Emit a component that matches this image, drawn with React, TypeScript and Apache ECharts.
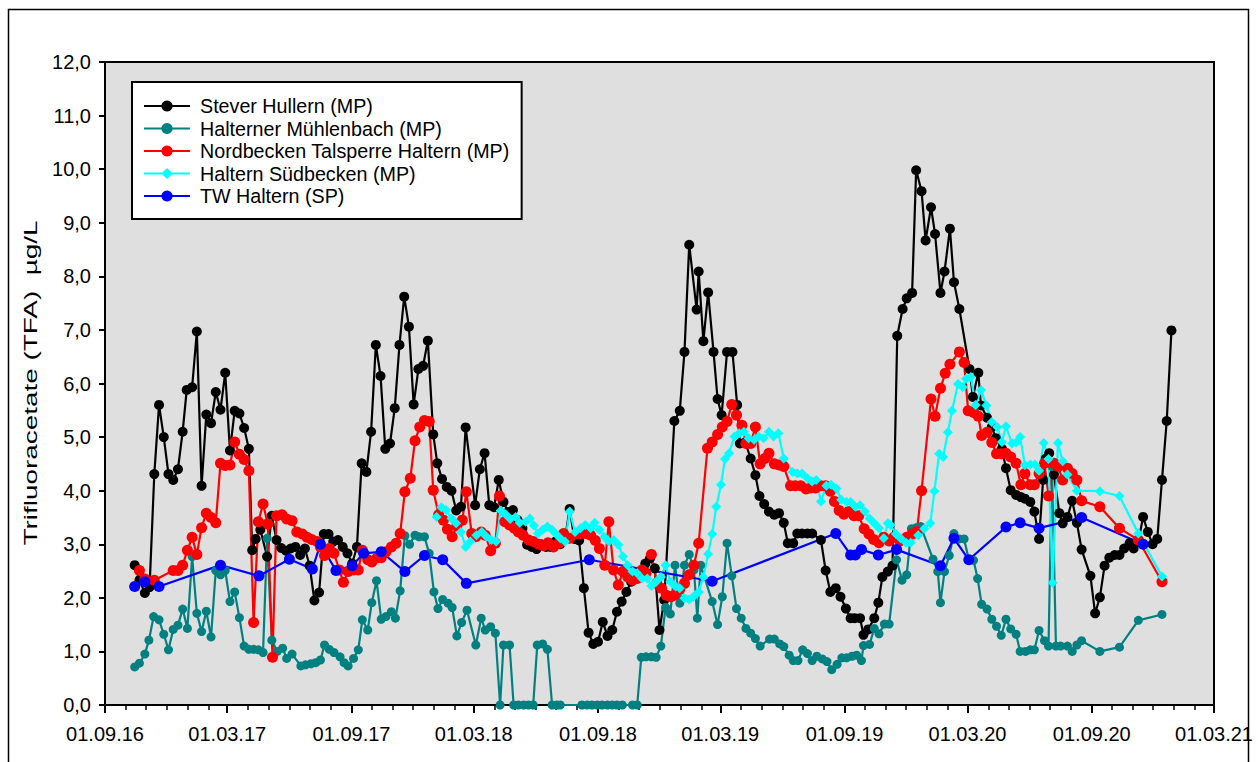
import React, { useEffect, useRef } from 'react';
import * as echarts from 'echarts';

const FONT = '"Liberation Sans", Arial, Helvetica, sans-serif';

// ---------- axis definitions ----------
const X_MIN = '2016-09-01';
const X_MAX = '2021-03-01';
const majorTickDates = [
  '2016-09-01', '2017-03-01', '2017-09-01', '2018-03-01', '2018-09-01',
  '2019-03-01', '2019-09-01', '2020-03-01', '2020-09-01', '2021-03-01',
];
const Y_MIN = 0;
const Y_MAX = 12;
const Y_STEP = 1;
const yAxisTitle = 'Trifluoracetate (TFA)  µg/L';

const seriesNames = [
  'Stever Hullern (MP)',
  'Halterner Mühlenbach (MP)',
  'Nordbecken Talsperre Haltern (MP)',
  'Haltern Südbecken (MP)',
  'TW Haltern (SP)',
];

// ---------- data (date, µg/L) ----------
const steverHullern: [string, number][] = [
  ['2016-10-15', 2.61], ['2016-10-22', 2.33], ['2016-10-30', 2.09], ['2016-11-06', 2.2], ['2016-11-13', 4.31],
  ['2016-11-20', 5.6], ['2016-11-27', 5.0], ['2016-12-04', 4.31], ['2016-12-11', 4.2], ['2016-12-18', 4.4],
  ['2016-12-25', 5.1], ['2016-12-31', 5.88], ['2017-01-08', 5.93], ['2017-01-15', 6.97], ['2017-01-22', 4.09],
  ['2017-01-29', 5.42], ['2017-02-05', 5.26], ['2017-02-12', 5.84], ['2017-02-19', 5.51], ['2017-02-26', 6.2],
  ['2017-03-05', 4.75], ['2017-03-12', 5.49], ['2017-03-19', 5.44], ['2017-03-26', 5.17], ['2017-04-02', 4.78],
  ['2017-04-07', 2.89], ['2017-04-12', 3.1], ['2017-04-19', 3.27], ['2017-04-29', 2.77], ['2017-05-06', 3.53],
  ['2017-05-13', 3.08], ['2017-05-20', 2.93], ['2017-05-27', 2.88], ['2017-06-03', 2.92], ['2017-06-10', 2.95],
  ['2017-06-17', 2.8], ['2017-06-24', 2.92], ['2017-07-01', 2.6], ['2017-07-08', 1.95], ['2017-07-15', 2.1],
  ['2017-07-22', 3.19], ['2017-07-29', 3.19], ['2017-08-05', 3.05], ['2017-08-12', 3.08], ['2017-08-19', 2.95],
  ['2017-08-26', 2.83], ['2017-09-02', 2.64], ['2017-09-09', 2.95], ['2017-09-16', 4.51], ['2017-09-23', 4.35],
  ['2017-09-30', 5.1], ['2017-10-07', 6.72], ['2017-10-14', 6.14], ['2017-10-21', 4.78], ['2017-10-28', 4.88],
  ['2017-11-04', 5.54], ['2017-11-11', 6.72], ['2017-11-18', 7.62], ['2017-11-25', 7.06], ['2017-12-02', 5.61],
  ['2017-12-09', 6.27], ['2017-12-16', 6.33], ['2017-12-23', 6.8], ['2017-12-31', 5.05], ['2018-01-06', 4.51],
  ['2018-01-13', 4.22], ['2018-01-20', 4.07], ['2018-01-27', 4.0], ['2018-02-03', 3.63], ['2018-02-10', 3.7],
  ['2018-02-17', 5.18], ['2018-03-03', 3.73], ['2018-03-10', 4.4], ['2018-03-17', 4.7], ['2018-03-24', 3.73],
  ['2018-03-31', 3.69], ['2018-04-07', 4.2], ['2018-04-14', 3.79], ['2018-04-21', 3.6], ['2018-04-28', 3.64],
  ['2018-05-05', 3.45], ['2018-05-12', 3.3], ['2018-05-19', 2.99], ['2018-05-26', 2.95], ['2018-06-02', 2.91],
  ['2018-06-09', 3.0], ['2018-06-16', 2.95], ['2018-06-23', 2.95], ['2018-06-30', 3.05], ['2018-07-07', 3.0],
  ['2018-07-14', 3.1], ['2018-07-21', 3.66], ['2018-07-28', 3.1], ['2018-08-04', 3.07], ['2018-08-11', 2.18],
  ['2018-08-18', 1.35], ['2018-08-25', 1.14], ['2018-09-01', 1.18], ['2018-09-08', 1.55], ['2018-09-15', 1.29],
  ['2018-09-22', 1.4], ['2018-09-29', 1.74], ['2018-10-06', 1.93], ['2018-10-13', 2.11], ['2018-10-20', 2.3],
  ['2018-10-27', 2.4], ['2018-11-03', 2.49], ['2018-11-10', 2.64], ['2018-11-17', 2.74], ['2018-11-24', 2.55],
  ['2018-12-01', 1.4], ['2018-12-08', 1.96], ['2018-12-23', 5.3], ['2018-12-31', 5.49], ['2019-01-07', 6.59],
  ['2019-01-14', 8.59], ['2019-01-25', 7.38], ['2019-01-28', 8.09], ['2019-02-04', 6.79], ['2019-02-11', 7.7],
  ['2019-02-19', 6.59], ['2019-02-25', 5.71], ['2019-03-03', 5.41], ['2019-03-11', 6.59], ['2019-03-19', 6.59],
  ['2019-03-26', 5.6], ['2019-03-30', 4.88], ['2019-04-07', 4.9], ['2019-04-15', 4.6], ['2019-04-22', 4.29],
  ['2019-04-28', 3.9], ['2019-05-05', 3.75], ['2019-05-12', 3.61], ['2019-05-20', 3.55], ['2019-05-27', 3.58],
  ['2019-06-03', 3.4], ['2019-06-09', 3.02], ['2019-06-17', 3.02], ['2019-06-23', 3.2], ['2019-06-30', 3.2],
  ['2019-07-08', 3.2], ['2019-07-15', 3.2], ['2019-07-28', 3.08], ['2019-08-04', 2.51], ['2019-08-11', 2.11],
  ['2019-08-19', 2.18], ['2019-08-26', 2.02], ['2019-09-03', 1.8], ['2019-09-10', 1.62], ['2019-09-16', 1.62],
  ['2019-09-24', 1.62], ['2019-09-29', 1.31], ['2019-10-06', 1.41], ['2019-10-15', 1.62], ['2019-10-21', 1.91],
  ['2019-10-27', 2.39], ['2019-11-04', 2.49], ['2019-11-11', 2.6], ['2019-11-18', 6.89], ['2019-11-26', 7.39],
  ['2019-12-02', 7.59], ['2019-12-10', 7.69], ['2019-12-16', 9.98], ['2019-12-24', 9.59], ['2019-12-30', 8.67],
  ['2020-01-07', 9.29], ['2020-01-13', 8.79], ['2020-01-21', 7.69], ['2020-01-27', 8.09], ['2020-02-04', 8.89],
  ['2020-02-10', 7.89], ['2020-02-18', 7.39], ['2020-03-04', 6.27], ['2020-03-09', 5.75], ['2020-03-17', 6.2],
  ['2020-03-21', 5.59], ['2020-03-30', 5.36], ['2020-04-06', 5.19], ['2020-04-12', 4.98], ['2020-04-21', 4.78],
  ['2020-04-27', 4.42], ['2020-05-04', 4.01], ['2020-05-12', 3.92], ['2020-05-19', 3.88], ['2020-05-25', 3.85],
  ['2020-06-02', 3.79], ['2020-06-08', 3.61], ['2020-06-15', 3.1], ['2020-06-21', 4.2], ['2020-06-25', 4.6],
  ['2020-06-30', 4.7], ['2020-07-07', 4.3], ['2020-07-15', 3.58], ['2020-07-20', 3.39], ['2020-07-27', 3.51],
  ['2020-08-03', 3.81], ['2020-08-10', 3.4], ['2020-08-17', 2.9], ['2020-08-30', 2.41], ['2020-09-06', 1.71],
  ['2020-09-13', 2.01], ['2020-09-20', 2.6], ['2020-09-27', 2.75], ['2020-10-05', 2.8], ['2020-10-12', 2.8],
  ['2020-10-19', 2.92], ['2020-10-27', 3.02], ['2020-11-02', 2.92], ['2020-11-09', 3.05], ['2020-11-16', 3.51],
  ['2020-11-23', 3.23], ['2020-11-30', 3.0], ['2020-12-07', 3.1], ['2020-12-14', 4.2], ['2020-12-21', 5.3],
  ['2020-12-28', 6.99],
];

const halternerMuehlenbach: [string, number][] = [
  ['2016-10-15', 0.71], ['2016-10-22', 0.78], ['2016-10-30', 0.95], ['2016-11-05', 1.21], ['2016-11-12', 1.65],
  ['2016-11-20', 1.59], ['2016-11-27', 1.32], ['2016-12-04', 1.03], ['2016-12-11', 1.41], ['2016-12-18', 1.49],
  ['2016-12-25', 1.79], ['2017-01-01', 1.43], ['2017-01-08', 2.77], ['2017-01-15', 1.71], ['2017-01-22', 1.37],
  ['2017-01-29', 1.75], ['2017-02-05', 1.27], ['2017-02-12', 2.51], ['2017-02-19', 2.43], ['2017-02-26', 2.51],
  ['2017-03-05', 1.93], ['2017-03-12', 2.11], ['2017-03-19', 1.63], ['2017-03-26', 1.1], ['2017-04-02', 1.04],
  ['2017-04-09', 1.04], ['2017-04-16', 1.03], ['2017-04-23', 0.98], ['2017-04-29', 3.11], ['2017-05-06', 1.21],
  ['2017-05-14', 1.0], ['2017-05-22', 1.06], ['2017-05-28', 0.87], ['2017-06-05', 0.95], ['2017-06-18', 0.73],
  ['2017-06-25', 0.75], ['2017-07-03', 0.77], ['2017-07-10', 0.79], ['2017-07-17', 0.84], ['2017-07-23', 1.12],
  ['2017-07-30', 1.04], ['2017-08-06', 0.98], ['2017-08-15', 0.9], ['2017-08-21', 0.79], ['2017-08-27', 0.73],
  ['2017-09-04', 0.87], ['2017-09-11', 1.03], ['2017-09-17', 1.59], ['2017-09-25', 1.4], ['2017-10-01', 1.91],
  ['2017-10-08', 2.32], ['2017-10-15', 1.6], ['2017-10-22', 1.65], ['2017-10-30', 1.74], ['2017-11-05', 1.62],
  ['2017-11-12', 2.13], ['2017-11-19', 3.16], ['2017-11-26', 3.0], ['2017-12-04', 3.17], ['2017-12-10', 3.14],
  ['2017-12-18', 3.14], ['2017-12-25', 2.83], ['2018-01-01', 2.11], ['2018-01-07', 1.8], ['2018-01-14', 1.97],
  ['2018-01-22', 1.9], ['2018-01-28', 1.82], ['2018-02-04', 1.29], ['2018-02-11', 1.54], ['2018-02-19', 1.77],
  ['2018-03-04', 1.12], ['2018-03-12', 1.62], ['2018-03-18', 1.4], ['2018-03-26', 1.46], ['2018-04-02', 1.34],
  ['2018-04-09', 0], ['2018-04-14', 1.12], ['2018-04-23', 1.12], ['2018-04-29', 0], ['2018-05-06', 0],
  ['2018-05-14', 0], ['2018-05-21', 0], ['2018-05-28', 0], ['2018-06-03', 1.12], ['2018-06-11', 1.14],
  ['2018-06-18', 1.04], ['2018-06-25', 0], ['2018-07-02', 0], ['2018-07-07', 0], ['2018-08-08', 0],
  ['2018-08-16', 0], ['2018-08-23', 0], ['2018-08-31', 0], ['2018-09-07', 0], ['2018-09-15', 0],
  ['2018-09-22', 0], ['2018-09-29', 0], ['2018-10-07', 0], ['2018-10-22', 0], ['2018-10-29', 0],
  ['2018-11-04', 0.89], ['2018-11-11', 0.9], ['2018-11-19', 0.9], ['2018-11-26', 0.89], ['2018-12-03', 1.1],
  ['2018-12-10', 1.82], ['2018-12-17', 1.7], ['2018-12-24', 2.61], ['2018-12-31', 1.9], ['2019-01-07', 2.61],
  ['2019-01-14', 2.81], ['2019-01-21', 2.52], ['2019-01-26', 1.62], ['2019-01-31', 2.61], ['2019-02-17', 1.93],
  ['2019-02-25', 1.5], ['2019-03-04', 2.02], ['2019-03-11', 3.02], ['2019-03-18', 2.41], ['2019-03-25', 1.8],
  ['2019-04-01', 1.62], ['2019-04-08', 1.43], ['2019-04-15', 1.34], ['2019-04-22', 1.24], ['2019-04-29', 1.1],
  ['2019-05-13', 1.23], ['2019-05-20', 1.23], ['2019-05-28', 1.14], ['2019-06-03', 1.09], ['2019-06-11', 0.93],
  ['2019-06-17', 0.83], ['2019-06-24', 0.83], ['2019-07-01', 1.03], ['2019-07-08', 0.96], ['2019-07-15', 0.83],
  ['2019-07-22', 0.91], ['2019-07-30', 0.86], ['2019-08-06', 0.81], ['2019-08-13', 0.66], ['2019-08-21', 0.76],
  ['2019-08-28', 0.88], ['2019-09-04', 0.88], ['2019-09-12', 0.91], ['2019-09-19', 0.93], ['2019-09-26', 0.83],
  ['2019-09-29', 1.11], ['2019-10-08', 1.13], ['2019-10-15', 1.43], ['2019-10-22', 1.33], ['2019-10-30', 1.51],
  ['2019-11-06', 1.51], ['2019-11-17', 2.71], ['2019-11-25', 2.33], ['2019-12-02', 2.43], ['2019-12-09', 3.29],
  ['2019-12-16', 3.31], ['2019-12-23', 3.33], ['2020-01-10', 2.72], ['2020-01-17', 2.49], ['2020-01-21', 1.91],
  ['2020-01-27', 2.49], ['2020-02-03', 2.79], ['2020-02-10', 3.2], ['2020-02-18', 3.1], ['2020-02-25', 3.1],
  ['2020-03-03', 2.71], ['2020-03-10', 2.7], ['2020-03-16', 2.36], ['2020-03-22', 1.88], ['2020-03-30', 1.79],
  ['2020-04-06', 1.6], ['2020-04-13', 1.47], ['2020-04-20', 1.3], ['2020-04-27', 1.6], ['2020-05-04', 1.42],
  ['2020-05-12', 1.32], ['2020-05-18', 1.0], ['2020-05-26', 1.0], ['2020-06-02', 1.03], ['2020-06-08', 1.03],
  ['2020-06-15', 1.39], ['2020-06-23', 1.2], ['2020-06-29', 1.1], ['2020-07-04', 4.45], ['2020-07-10', 1.1],
  ['2020-07-17', 1.1], ['2020-07-27', 1.1], ['2020-08-03', 1.0], ['2020-08-10', 1.12], ['2020-08-17', 1.2],
  ['2020-09-13', 1.0], ['2020-10-12', 1.08], ['2020-11-09', 1.58], ['2020-12-14', 1.69],
];

const nordbecken: [string, number][] = [
  ['2016-10-22', 2.51], ['2016-10-30', 2.35], ['2016-11-13', 2.33], ['2016-12-11', 2.51], ['2016-12-18', 2.51],
  ['2016-12-25', 2.61], ['2017-01-01', 2.89], ['2017-01-08', 3.13], ['2017-01-15', 2.81], ['2017-01-22', 3.31],
  ['2017-01-29', 3.58], ['2017-02-05', 3.5], ['2017-02-12', 3.4], ['2017-02-19', 4.51], ['2017-02-26', 4.47],
  ['2017-03-05', 4.48], ['2017-03-12', 4.91], ['2017-03-19', 4.68], ['2017-03-26', 4.58], ['2017-04-02', 4.37],
  ['2017-04-09', 1.54], ['2017-04-16', 3.42], ['2017-04-23', 3.75], ['2017-04-30', 3.38], ['2017-05-07', 0.89],
  ['2017-05-13', 3.53], ['2017-05-21', 3.55], ['2017-05-28', 3.47], ['2017-06-05', 3.44], ['2017-06-12', 3.23],
  ['2017-06-20', 3.19], ['2017-06-27', 3.13], ['2017-07-04', 3.09], ['2017-07-12', 3.05], ['2017-07-17', 2.95],
  ['2017-07-23', 2.79], ['2017-07-30', 2.92], ['2017-08-06', 2.83], ['2017-08-14', 2.52], ['2017-08-20', 2.29],
  ['2017-08-27', 2.49], ['2017-09-04', 2.52], ['2017-09-11', 2.52], ['2017-09-17', 2.89], ['2017-09-25', 2.71],
  ['2017-10-01', 2.67], ['2017-10-09', 2.75], ['2017-10-15', 2.75], ['2017-10-22', 2.86], ['2017-10-30', 2.95],
  ['2017-11-06', 3.02], ['2017-11-12', 3.2], ['2017-11-19', 3.98], ['2017-11-27', 4.23], ['2017-12-04', 4.93],
  ['2017-12-11', 5.19], ['2017-12-18', 5.31], ['2017-12-25', 5.29], ['2017-12-31', 4.01], ['2018-01-08', 3.55],
  ['2018-01-15', 3.45], ['2018-01-21', 3.28], ['2018-01-28', 3.14], ['2018-02-04', 3.34], ['2018-02-12', 3.45],
  ['2018-02-18', 3.98], ['2018-02-26', 3.2], ['2018-03-04', 3.14], ['2018-03-12', 3.23], ['2018-03-18', 3.17],
  ['2018-03-26', 2.88], ['2018-04-02', 3.02], ['2018-04-08', 3.9], ['2018-04-16', 3.42], ['2018-04-23', 3.36],
  ['2018-04-30', 3.3], ['2018-05-06', 3.23], ['2018-05-13', 3.17], ['2018-05-21', 3.08], ['2018-05-28', 3.05],
  ['2018-06-05', 3.0], ['2018-06-12', 2.97], ['2018-06-19', 3.03], ['2018-06-27', 2.95], ['2018-07-05', 3.02],
  ['2018-07-12', 3.2], ['2018-07-21', 3.11], ['2018-08-01', 3.2], ['2018-08-06', 3.2], ['2018-08-13', 3.2],
  ['2018-08-21', 3.17], ['2018-08-28', 3.07], ['2018-09-03', 2.92], ['2018-09-11', 2.61], ['2018-09-17', 3.42],
  ['2018-09-24', 2.52], ['2018-10-01', 2.24], ['2018-10-08', 2.49], ['2018-10-15', 2.39], ['2018-10-22', 2.33],
  ['2018-10-29', 2.36], ['2018-11-05', 2.52], ['2018-11-11', 2.46], ['2018-11-19', 2.81], ['2018-11-27', 2.27],
  ['2018-12-04', 2.18], ['2018-12-11', 2.05], ['2018-12-18', 2.02], ['2018-12-23', 2.05], ['2018-12-31', 2.16],
  ['2019-01-07', 2.27], ['2019-01-14', 2.43], ['2019-01-21', 2.61], ['2019-01-28', 3.02], ['2019-02-10', 4.79],
  ['2019-02-17', 4.91], ['2019-02-25', 5.05], ['2019-03-04', 5.19], ['2019-03-11', 5.29], ['2019-03-18', 5.61],
  ['2019-03-25', 5.41], ['2019-04-02', 5.22], ['2019-04-08', 4.88], ['2019-04-15', 4.88], ['2019-04-22', 5.19],
  ['2019-04-29', 4.5], ['2019-05-06', 4.6], ['2019-05-12', 4.7], ['2019-05-20', 4.5], ['2019-05-27', 4.48],
  ['2019-06-03', 4.45], ['2019-06-13', 4.09], ['2019-06-20', 4.09], ['2019-06-28', 4.09], ['2019-07-06', 4.03],
  ['2019-07-13', 4.05], ['2019-07-20', 4.05], ['2019-07-28', 4.09], ['2019-08-04', 4.09], ['2019-08-11', 3.99],
  ['2019-08-17', 3.8], ['2019-08-24', 3.63], ['2019-08-31', 3.56], ['2019-09-07', 3.61], ['2019-09-15', 3.53],
  ['2019-09-22', 3.53], ['2019-09-30', 3.29], ['2019-10-07', 3.19], ['2019-10-14', 3.09], ['2019-10-22', 3.03],
  ['2019-10-29', 3.13], ['2019-11-06', 3.06], ['2019-11-13', 3.13], ['2019-11-22', 3.06], ['2019-12-02', 3.13],
  ['2019-12-10', 3.19], ['2019-12-17', 3.24], ['2019-12-24', 4.0], ['2020-01-07', 5.71], ['2020-01-13', 5.39],
  ['2020-01-21', 5.91], ['2020-01-28', 6.19], ['2020-02-04', 6.36], ['2020-02-18', 6.59], ['2020-02-25', 6.39],
  ['2020-03-02', 5.49], ['2020-03-10', 5.46], ['2020-03-17', 5.39], ['2020-03-22', 5.03], ['2020-03-30', 5.09],
  ['2020-04-06', 4.9], ['2020-04-13', 4.69], ['2020-04-20', 4.69], ['2020-04-27', 4.7], ['2020-05-04', 4.63],
  ['2020-05-12', 4.51], ['2020-05-19', 4.11], ['2020-05-25', 4.32], ['2020-06-02', 4.11], ['2020-06-08', 4.11],
  ['2020-06-15', 4.32], ['2020-06-23', 4.51], ['2020-06-29', 3.9], ['2020-07-07', 4.51], ['2020-07-13', 4.45],
  ['2020-07-20', 4.2], ['2020-07-27', 4.42], ['2020-08-03', 4.32], ['2020-08-10', 4.2], ['2020-08-17', 3.81],
  ['2020-09-13', 3.7], ['2020-10-12', 3.3], ['2020-11-09', 3.08], ['2020-12-14', 2.3],
];

const halternSuedbecken: [string, number][] = [
  ['2018-01-05', 3.51], ['2018-01-12', 3.69], ['2018-01-19', 3.64], ['2018-01-27', 3.48], ['2018-02-03', 3.39],
  ['2018-02-10', 3.23], ['2018-02-17', 2.95], ['2018-02-24', 3.05], ['2018-03-05', 3.17], ['2018-03-13', 3.23],
  ['2018-03-20', 3.14], ['2018-03-27', 3.08], ['2018-04-03', 3.05], ['2018-04-10', 3.63], ['2018-04-17', 3.56],
  ['2018-04-24', 3.47], ['2018-05-02', 3.51], ['2018-05-08', 3.4], ['2018-05-17', 3.42], ['2018-05-23', 3.48],
  ['2018-05-29', 3.35], ['2018-06-04', 3.2], ['2018-06-11', 3.27], ['2018-06-18', 3.33], ['2018-06-25', 3.27],
  ['2018-06-30', 3.2], ['2018-07-07', 3.11], ['2018-07-14', 3.05], ['2018-07-21', 3.61], ['2018-07-29', 3.23],
  ['2018-08-06', 3.3], ['2018-08-13', 3.36], ['2018-08-21', 3.3], ['2018-08-27', 3.4], ['2018-09-03', 3.27],
  ['2018-09-10', 3.14], ['2018-09-17', 3.05], ['2018-09-24', 3.08], ['2018-10-01', 2.99], ['2018-10-08', 2.77],
  ['2018-10-15', 2.61], ['2018-10-22', 2.49], ['2018-10-29', 2.46], ['2018-11-05', 2.36], ['2018-11-13', 2.36],
  ['2018-11-19', 2.22], ['2018-11-26', 2.3], ['2018-12-03', 2.39], ['2018-12-10', 2.61], ['2018-12-17', 2.3],
  ['2018-12-25', 2.21], ['2018-12-31', 2.18], ['2019-01-07', 1.99], ['2019-01-14', 1.97], ['2019-01-20', 2.02],
  ['2019-01-28', 2.11], ['2019-02-04', 2.39], ['2019-02-11', 2.82], ['2019-02-17', 3.19], ['2019-02-23', 3.7],
  ['2019-03-02', 4.11], ['2019-03-08', 4.59], ['2019-03-14', 4.7], ['2019-03-22', 5.01], ['2019-03-29', 5.07],
  ['2019-04-05', 5.1], ['2019-04-12', 4.98], ['2019-04-20', 4.95], ['2019-04-27', 5.01], ['2019-05-04', 4.98],
  ['2019-05-12', 5.1], ['2019-05-19', 5.01], ['2019-05-26', 5.07], ['2019-06-03', 4.6], ['2019-06-16', 4.35],
  ['2019-06-23', 4.32], ['2019-06-30', 4.32], ['2019-07-08', 4.23], ['2019-07-15', 4.17], ['2019-07-21', 4.2],
  ['2019-07-28', 3.8], ['2019-08-05', 4.09], ['2019-08-12', 4.11], ['2019-08-20', 4.04], ['2019-08-27', 3.83],
  ['2019-09-04', 3.79], ['2019-09-10', 3.79], ['2019-09-17', 3.7], ['2019-09-24', 3.73], ['2019-10-01', 3.61],
  ['2019-10-08', 3.48], ['2019-10-15', 3.39], ['2019-10-22', 3.3], ['2019-10-29', 3.11], ['2019-11-04', 3.39],
  ['2019-11-08', 3.36], ['2019-11-16', 3.19], ['2019-11-23', 3.11], ['2019-12-01', 3.03], ['2019-12-08', 3.03],
  ['2019-12-19', 3.17], ['2019-12-28', 3.29], ['2020-01-06', 3.39], ['2020-01-12', 3.99], ['2020-01-19', 4.69],
  ['2020-01-25', 4.63], ['2020-02-01', 5.09], ['2020-02-07', 5.49], ['2020-02-16', 5.99], ['2020-02-23', 5.93],
  ['2020-02-28', 6.09], ['2020-03-06', 6.12], ['2020-03-13', 5.6], ['2020-03-21', 5.88], ['2020-03-29', 5.59],
  ['2020-04-06', 5.28], ['2020-04-14', 5.19], ['2020-04-21', 4.91], ['2020-04-27', 5.2], ['2020-05-06', 4.88],
  ['2020-05-12', 4.9], ['2020-05-18', 5.0], ['2020-05-25', 4.48], ['2020-06-02', 4.49], ['2020-06-09', 4.49],
  ['2020-06-15', 4.37], ['2020-06-22', 4.89], ['2020-06-29', 4.59], ['2020-07-05', 2.28], ['2020-07-13', 4.89],
  ['2020-07-20', 4.55], ['2020-07-27', 4.3], ['2020-08-10', 4.0], ['2020-09-13', 3.99], ['2020-10-12', 3.9],
  ['2020-11-09', 3.2], ['2020-12-14', 2.4],
];

const twHaltern: [string, number][] = [
  ['2016-10-15', 2.21], ['2016-10-30', 2.3], ['2016-11-20', 2.21], ['2017-02-19', 2.61], ['2017-04-17', 2.41],
  ['2017-06-01', 2.72], ['2017-07-05', 2.54], ['2017-07-17', 3.0], ['2017-08-09', 2.51], ['2017-09-02', 2.6],
  ['2017-09-19', 2.83], ['2017-10-15', 2.86], ['2017-11-19', 2.49], ['2017-12-18', 2.79], ['2018-01-14', 2.71],
  ['2018-02-18', 2.27], ['2018-08-19', 2.71], ['2019-02-17', 2.31], ['2019-08-19', 3.2], ['2019-09-10', 2.8],
  ['2019-09-17', 2.8], ['2019-09-26', 2.9], ['2019-10-21', 2.8], ['2019-11-17', 2.9], ['2020-01-21', 2.6],
  ['2020-02-10', 3.11], ['2020-03-03', 2.71], ['2020-04-27', 3.32], ['2020-05-18', 3.4], ['2020-06-15', 3.3],
  ['2020-08-17', 3.5], ['2020-11-16', 3.0],
];

// ---------- helpers ----------
function ts(d: string): number {
  const [y, m, dd] = d.split('-').map(Number);
  return Date.UTC(y, m - 1, dd);
}
function fmtDate(v: number): string {
  const d = new Date(v);
  const dd = String(d.getUTCDate()).padStart(2, '0');
  const mm = String(d.getUTCMonth() + 1).padStart(2, '0');
  const yy = String(d.getUTCFullYear() % 100).padStart(2, '0');
  return `${dd}.${mm}.${yy}`;
}
function monthStarts(from: string, to: string): number[] {
  const out: number[] = [];
  const [fy, fm] = from.split('-').map(Number);
  const end = ts(to);
  let y = fy;
  let m = fm - 1;
  while (Date.UTC(y, m, 1) <= end) {
    out.push(Date.UTC(y, m, 1));
    m++;
    if (m > 11) { m = 0; y++; }
  }
  return out;
}

const seriesStyles = [
  { color: '#000000', symbol: 'circle', size: 10 },
  { color: '#008080', symbol: 'circle', size: 9 },
  { color: '#FF0000', symbol: 'circle', size: 11 },
  { color: '#00FFFF', symbol: 'diamond', size: 10 },
  { color: '#0000FF', symbol: 'circle', size: 11 },
];
const seriesData = [steverHullern, halternerMuehlenbach, nordbecken, halternSuedbecken, twHaltern];

export default function App() {
  const ref = useRef<HTMLDivElement>(null);

  useEffect(() => {
    if (!ref.current) return;
    const chart = echarts.init(ref.current, null, { renderer: 'svg' });

    const series = seriesNames.map((name, i) => ({
      name,
      type: 'line',
      xAxisIndex: 0,
      yAxisIndex: 0,
      data: seriesData[i].map(([d, v]) => [ts(d), v]),
      symbol: seriesStyles[i].symbol,
      symbolSize: seriesStyles[i].size,
      showSymbol: true,
      showAllSymbol: true,
      lineStyle: { color: seriesStyles[i].color, width: 2.2 },
      itemStyle: { color: seriesStyles[i].color, borderWidth: 0 },
      emphasis: { disabled: true },
      clip: true,
    }));

    const option: any = {
      animation: false,
      backgroundColor: '#ffffff',
      textStyle: { fontFamily: FONT },
      grid: {
        left: 105, right: 44, top: 62, bottom: 57,
        show: true, backgroundColor: '#DFDFDF', borderColor: '#000', borderWidth: 2,
      },
      legend: {
        data: seriesNames,
        orient: 'vertical',
        left: 132,
        top: 82,
        itemWidth: 46,
        itemHeight: 14,
        itemGap: 2.5,
        padding: [14, 12, 13, 11],
        backgroundColor: '#ffffff',
        borderColor: '#000000',
        borderWidth: 2,
        borderRadius: 0,
        selectedMode: false,
        textStyle: {
          fontFamily: FONT, fontSize: 19.7, color: '#000', lineHeight: 19.5, padding: [0, 0, 0, 5],
        },
      },
      xAxis: [
        {
          type: 'value',
          min: ts(X_MIN),
          max: ts(X_MAX),
          position: 'bottom',
          axisLine: { show: true, onZero: false, lineStyle: { color: '#000', width: 2 } },
          axisTick: {
            show: true, inside: false, length: 8, lineStyle: { color: '#000', width: 2 },
            customValues: majorTickDates.map(ts),
          },
          axisLabel: {
            show: true, margin: 19, color: '#000', fontFamily: FONT, fontSize: 20,
            customValues: majorTickDates.map(ts),
            formatter: (v: number) => fmtDate(v),
          },
          splitLine: { show: false },
        },
        {
          type: 'value',
          min: ts(X_MIN),
          max: ts(X_MAX),
          position: 'bottom',
          axisLine: { show: false },
          axisTick: {
            show: true, inside: false, length: 5, lineStyle: { color: '#000', width: 1.5 },
            customValues: monthStarts(X_MIN, X_MAX),
          },
          axisLabel: { show: false },
          splitLine: { show: false },
        },
      ],
      yAxis: {
        type: 'value',
        min: Y_MIN,
        max: Y_MAX,
        interval: Y_STEP,
        axisLine: { show: true, lineStyle: { color: '#000', width: 2 } },
        axisTick: { show: true, inside: false, length: 6, lineStyle: { color: '#000', width: 2 } },
        axisLabel: {
          margin: 14, color: '#000', fontFamily: FONT, fontSize: 20,
          formatter: (v: number) => v.toFixed(1).replace('.', ','),
        },
        splitLine: { show: false },
      },
      graphic: [
        {
          type: 'rect',
          silent: true,
          shape: { x: 8.5, y: 9.5, width: 1240, height: 800 },
          style: { fill: 'none', stroke: '#000', lineWidth: 1.5 },
          z: 100,
        },
        {
          type: 'text',
          silent: true,
          x: 31,
          y: 383,
          rotation: Math.PI / 2,
          scaleX: 1.55,
          scaleY: 1,
          style: {
            text: yAxisTitle,
            fontFamily: FONT,
            fontSize: 18,
            fill: '#000',
            align: 'center',
            verticalAlign: 'middle',
          },
        },
      ],
      series,
    };

    chart.setOption(option);
    return () => chart.dispose();
  }, []);

  return (
    <div
      ref={ref}
      style={{ position: 'absolute', left: 0, top: 0, width: 1258, height: 762 }}
    />
  );
}
